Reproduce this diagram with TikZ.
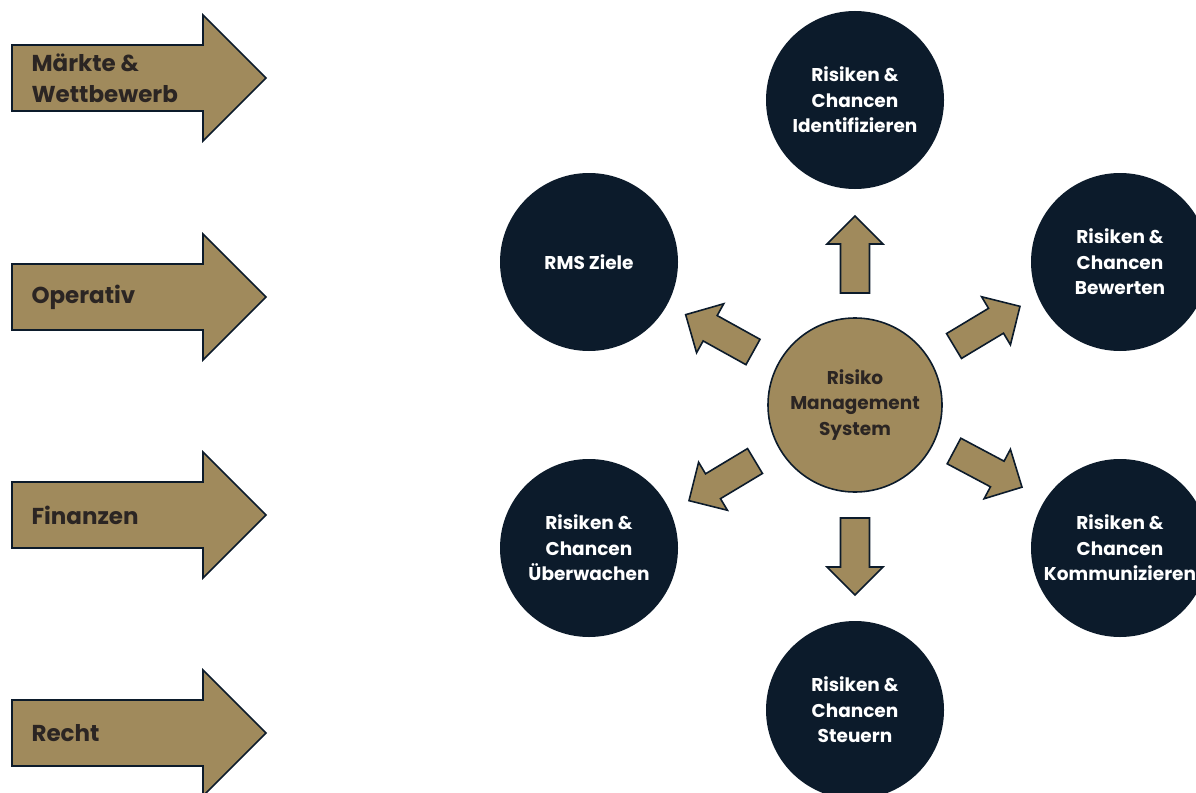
\documentclass[tikz,border=0pt]{standalone}
\usepackage{fontspec}
\setmainfont{Poppins}
\definecolor{navy}{RGB}{12,27,43}
\definecolor{gold}{RGB}{160,138,92}
\definecolor{ink}{RGB}{43,37,35}
\tikzset{
  flow/.style={fill=gold, draw=navy, line width=1.6pt, line join=miter},
  goal/.style={circle, fill=navy, minimum size=178pt, inner sep=0pt, text=white,
    font=\bfseries\fontsize{18.5}{25.5}\selectfont, align=center},
  core/.style={circle, fill=gold, draw=navy, line width=1.6pt, minimum size=174pt,
    inner sep=0pt, text=ink, font=\bfseries\fontsize{18.5}{25.5}\selectfont, align=center},
  lbl/.style={anchor=west, text=ink, font=\bfseries\fontsize{23}{31}\selectfont, align=left},
  smallarrow/.pic={\draw[flow] (0,-14.5) -- (49,-14.5) -- (49,-28) -- (77,0) -- (49,28) -- (49,14.5) -- (0,14.5) -- cycle;}
}
\begin{document}
\begin{tikzpicture}[x=1pt,y=-1pt]
\useasboundingbox (0,0) rectangle (1196,792);
\clip (0,0) rectangle (1196,792);
\fill[white] (0,0) rectangle (1196,792);
% input arrows
\foreach \yc/\nm/\txt in {78/mw/{Märkte \&\\Wettbewerb}, 297/op/{Operativ}, 515/fi/{Finanzen}, 733/re/{Recht}} {
  \draw[flow] (12,\yc-33) -- (203,\yc-33) -- (203,\yc-63) -- (266,\yc) -- (203,\yc+63) -- (203,\yc+33) -- (12,\yc+33) -- cycle;
  \node[lbl] (\nm) at (28,\yc) {\txt};
}
% circles
\node[core] (core) at (855,405) {Risiko\\Management\\System};
\node[goal] (ident) at (855,100) {Risiken \&\\Chancen\\Identifizieren};
\node[goal] (ziele) at (589,262) {RMS Ziele};
\node[goal] (bew) at (1120,262) {Risiken \&\\Chancen\\Bewerten};
\node[goal] (ueb) at (589,548) {Risiken \&\\Chancen\\Überwachen};
\node[goal] (komm) at (1120,548) {Risiken \&\\Chancen\\Kommunizieren};
\node[goal] (steu) at (855,710) {Risiken \&\\Chancen\\Steuern};
% radiating arrows
\pic (aup) [rotate=90] at (855,293) {smallarrow};
\pic (adn) [rotate=-90] at (855,518) {smallarrow};
\pic (aur) [rotate=31] at (954,346) {smallarrow};
\pic (alr) [rotate=-28] at (954,451) {smallarrow};
\pic (aul) [rotate=151] at (753,352) {smallarrow};
\pic (all) [rotate=-149] at (755,461) {smallarrow};
\end{tikzpicture}
\end{document}
